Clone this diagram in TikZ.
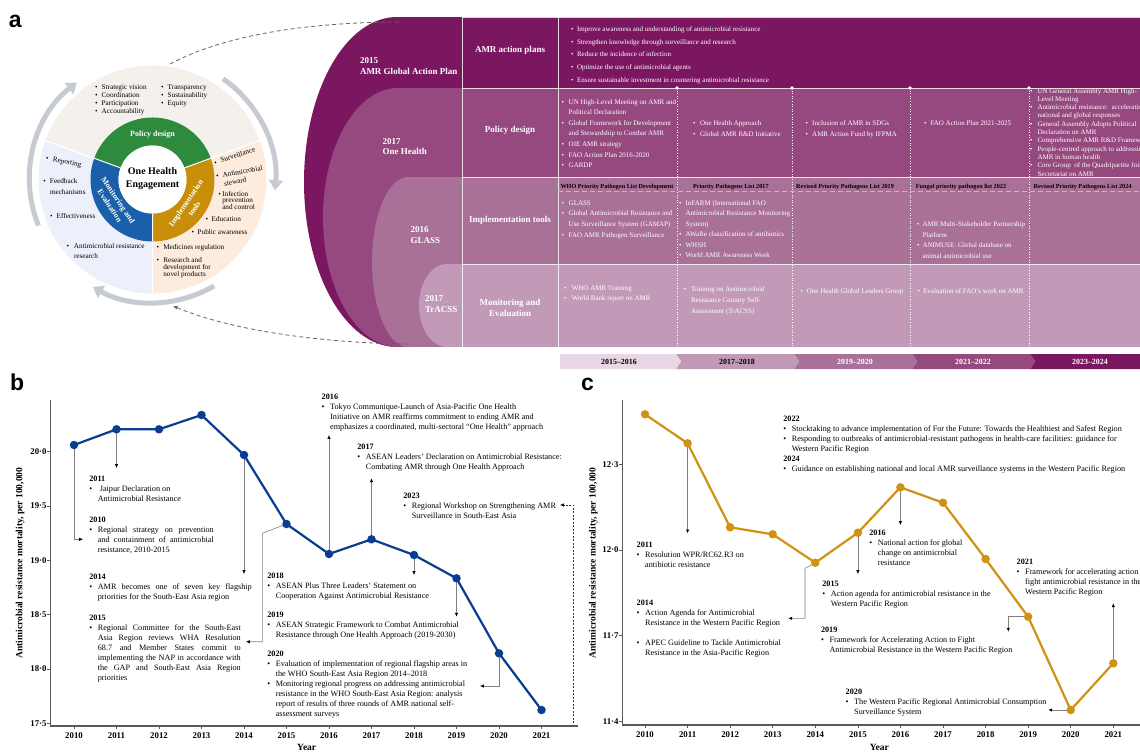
\documentclass[tikz,border=0pt]{standalone}
\usepackage{fontspec}
\setmainfont{Liberation Serif}
\newfontfamily\panelfont{Liberation Sans}
\usetikzlibrary{arrows.meta}
\definecolor{cA}{HTML}{7B1761}
\definecolor{cB}{HTML}{95497E}
\definecolor{cC}{HTML}{A97098}
\definecolor{cD}{HTML}{C29AB8}
\definecolor{cE}{HTML}{E9D7E6}
\definecolor{pgreen}{HTML}{2E8B3D}
\definecolor{pgold}{HTML}{C88E0A}
\definecolor{pblue}{HTML}{1A5FAA}
\definecolor{sbeige}{HTML}{F4F1EC}
\definecolor{speach}{HTML}{FDECDE}
\definecolor{slav}{HTML}{EDF0FA}
\definecolor{garr}{HTML}{C6CBD2}
\definecolor{bblue}{HTML}{0A3D91}
\definecolor{cgold}{HTML}{CF9214}
\definecolor{hdash}{HTML}{9DC3E6}
\newcommand{\fb}{\fontsize{8.2}{10}\selectfont}
\newcommand{\blk}[1]{{\fb\begin{tabular}[t]{@{}l@{}}#1\end{tabular}}}
\newcommand{\bu}{\makebox[8.5pt][l]{•}}
\newcommand{\ii}{\hspace*{8.5pt}}
\newcommand{\jl}[2]{\makebox[#1pt][s]{#2}}
\newcommand{\tb}[3]{{\fontsize{#1}{#2}\selectfont\begin{tabular}[t]{@{}l@{}}#3\end{tabular}}}
\newcommand{\tbu}[1]{\makebox[#1pt][l]{•}}
\newcommand{\tii}[1]{\hspace*{#1pt}}
\newcommand{\slab}[2]{{\fontsize{9}{#1}\selectfont\bfseries\begin{tabular}[t]{@{}l@{}}#2\end{tabular}}}
\begin{document}
\begin{tikzpicture}[x=1pt,y=-1pt]
\tikzset{
 every node/.style={inner sep=0pt,outer sep=0pt},
 ann/.style={anchor=base west,text=black},
 tw/.style={anchor=base west,text=white},
 conn/.style={draw=black!50,line width=0.6pt,-{Latex[length=3.8pt,width=3.4pt,color=black]}},
 conndash/.style={draw=black!80,line width=0.6pt,dash pattern=on 2pt off 1.5pt,-{Latex[length=3.8pt,width=3.4pt,color=black]}},
 tline/.style={draw=white,draw opacity=0.8,line width=0.8pt},
 colsep/.style={draw=white,dotted,line width=0.6pt},
 cdot/.style={circle,fill=white,minimum size=3.6pt},
 rowlab/.style={text=white,font=\fontsize{9}{11}\selectfont\bfseries,align=center},
 hdr/.style={anchor=base,font=\fontsize{6.2}{7}\selectfont\bfseries,text=black},
 tlab/.style={font=\fontsize{7.9}{9}\selectfont\bfseries},
 ringlab/.style={text=white,font=\fontsize{8}{10}\selectfont\bfseries,align=center},
 garrow/.style={draw=garr,line width=5pt,-{Triangle[length=10pt,width=14pt]}},
 dconn/.style={draw=black!60,line width=0.8pt,dash pattern=on 4pt off 3pt},
 axln/.style={draw=black!65,line width=1.1pt},
 ticklab/.style={font=\fontsize{8.8}{10}\selectfont\bfseries},
 axtitle/.style={font=\fontsize{9.5}{11}\selectfont\bfseries},
 bline/.style={draw=bblue,line width=2.2pt,line join=round},
 cline/.style={draw=cgold,line width=2.2pt,line join=round},
 bpt/.style={circle,fill=bblue,minimum size=8.5pt},
 cpt/.style={circle,fill=cgold,minimum size=8.5pt},
 plab/.style={anchor=base west,font=\panelfont\fontsize{23}{23}\selectfont\bfseries},
}
\useasboundingbox (0,0) rectangle (1140,753);
\fill[white] (0,0) rectangle (1140,753);

% ---------- panel labels
\node[plab] (la) at (9,27) {a};
\node[plab] (lb) at (10,390.7) {b};
\node[plab] (lc) at (581,390.7) {c};

% ---------- panel a: nested shapes
\fill[cA] (397,182) ellipse [x radius=93,y radius=165];
\fill[cA] (397,17) rectangle (462,347);
\fill[cB] (398,217.5) ellipse [x radius=75,y radius=129.5];
\fill[cB] (398,88) rectangle (462,347);
\fill[cC] (408,262) ellipse [x radius=36,y radius=85];
\fill[cC] (408,177) rectangle (462,347);
\fill[cD] (447,305.5) ellipse [x radius=28,y radius=41.5];
\fill[cD] (447,264) rectangle (462,347);

% table rows
\fill[cA] (462,17) rectangle (1140,88);
\fill[cB] (462,88) rectangle (1140,177);
\fill[cC] (462,177) rectangle (1140,264);
\fill[cD] (462,264) rectangle (1140,347);
\draw[tline] (462,17) -- (462,347) (558,17) -- (558,347);
\draw[tline] (462,17) -- (1140,17) (462,88) -- (1140,88) (462,177) -- (1140,177) (462,264) -- (1140,264) (462,347) -- (1140,347);
\draw[colsep] (677,88) -- (677,347) (792,88) -- (792,347) (910,88) -- (910,347) (1029,88) -- (1029,347);
\node[cdot] (d1) at (677,88) {};
\node[cdot] (d2) at (792,88) {};
\node[cdot] (d3) at (910,88) {};
\node[cdot] (d4) at (1029,88) {};
\draw[draw=hdash,line width=0.9pt,dash pattern=on 5pt off 3pt] (558,191.5) -- (1140,191.5);

% shape labels
\node[tw] (s1) at (360,63) {\slab{11}{2015\\AMR Global Action Plan}};
\node[tw] (s2) at (382.7,144.7) {\slab{10}{2017\\One Health}};
\node[tw] (s3) at (410.7,232.3) {\slab{10.7}{2016\\GLASS}};
\node[tw] (s4) at (425,301.3) {\slab{10.7}{2017\\TrACSS}};

% row labels
\node[rowlab] (rl1) at (510,50.7) {AMR action plans};
\node[rowlab] (rl2) at (510,130.7) {Policy design};
\node[rowlab] (rl3) at (510,220.7) {Implementation tools};
\node[rowlab] (rl4) at (510,307.5) {Monitoring and\\Evaluation};

% row 1
\node[tw] (r1) at (571,31.3) {\tb{7}{12.75}{\tbu{6}Improve awareness and understanding of antimicrobial resistance\\\tbu{6}Strengthen knowledge through surveillance and research\\\tbu{6}Reduce the incidence of infection\\\tbu{6}Optimize the use of antimicrobial agents\\\tbu{6}Ensure sustainable investment in countering antimicrobial resistance}};
% row 2
\node[tw] (r2a) at (561.7,104) {\tb{7}{10.6}{\tbu{7}UN High-Level Meeting on AMR and\\\tii{7}Political Declaration\\\tbu{7}Global Framework for Development\\\tii{7}and Stewardship to Combat AMR\\\tbu{7}OIE AMR strategy\\\tbu{7}FAO Action Plan 2016-2020\\\tbu{7}GARDP}};
\node[tw] (r2b) at (693,125.6) {\tb{7}{11}{\tbu{7}One Health Approach\\\tbu{7}Global AMR R\&D Initiative}};
\node[tw] (r2c) at (805.7,125.6) {\tb{7}{11}{\tbu{6.5}Inclusion of AMR in SDGs\\\tbu{6.5}AMR Action Fund by IFPMA}};
\node[tw] (r2d) at (924,125.6) {\tb{7}{11}{\tbu{6.5}FAO Action Plan 2021-2025}};
\node[tw] (r2e) at (1030,93) {\tb{7}{8.3}{\tbu{7.5}UN General Assembly AMR High-\\\tii{7.5}Level Meeting\\\tbu{7.5}Antimicrobial resistance:\ \ accelerating\\\tii{7.5}national and global responses\\\tbu{7.5}General Assembly Adopts Political\\\tii{7.5}Declaration on AMR\\\tbu{7.5}Comprehensive AMR R\&D Framework\\\tbu{7.5}People-centred approach to addressing\\\tii{7.5}AMR in human health\\\tbu{7.5}Core Group\ \ of the Quadripartite Joint\\\tii{7.5}Secretariat on AMR}};
% row 3
\node[hdr] (h1) at (617,188) {WHO Priority Pathogen List Development};
\node[hdr] (h2) at (730.8,188) {Priority Pathogens List 2017};
\node[hdr] (h3) at (845,188) {Revised Priority Pathogens List 2019};
\node[hdr] (h4) at (961,188) {Fungal priority pathogen list 2022};
\node[hdr] (h5) at (1082.6,188) {Revised Priority Pathogens List 2024};
\node[tw] (r3a) at (561.7,205) {\tb{7}{10.9}{\tbu{7}GLASS\\\tbu{7}Global Antimicrobial Resistance and\\\tii{7}Use Surveillance System (GAMAP)\\\tbu{7}FAO AMR Pathogen Surveillance}};
\node[tw] (r3b) at (679,205) {\tb{7}{10.5}{\tbu{6.6}InFARM (International FAO\\\tii{6.6}Antimicrobial Resistance Monitoring\\\tii{6.6}System)\\\tbu{6.6}AWaRe classification of antibiotics\\\tbu{6.6}WHSH\\\tbu{6.6}World AMR Awareness Week}};
\node[tw] (r3d) at (917,226.6) {\tb{7}{10.6}{\tbu{5.5}AMR Multi-Stakeholder Partnership\\\tii{5.5}Platform\\\tbu{5.5}ANIMUSE: Global database on\\\tii{5.5}animal antimicrobial use}};
% row 4
\node[tw] (r4a) at (564,290) {\tb{7}{10.6}{\tbu{7.8}WHO AMR Training\\\tbu{7.8}World Bank report on AMR}};
\node[tw] (r4b) at (683.7,291.6) {\tb{7}{10.7}{\tbu{7.3}Training on Antimicrobial\\\tii{7.3}Resistance Country Self-\\\tii{7.3}Assessment (TrACSS)}};
\node[tw] (r4c) at (800.5,293.3) {\tb{7}{10.7}{\tbu{6.4}One Health Global Leaders Group}};
\node[tw] (r4d) at (917.7,293.3) {\tb{7}{10.7}{\tbu{5.5}Evaluation of FAO’s work on AMR}};

% timeline
\fill[cA] (1030,354) -- (1140,354) -- (1140,369) -- (1030,369) -- (1035,361.5) -- cycle;
\fill[cB] (912,354) -- (1030,354) -- (1035,361.5) -- (1030,369) -- (912,369) -- (917,361.5) -- cycle;
\fill[cC] (794,354) -- (912,354) -- (917,361.5) -- (912,369) -- (794,369) -- (799,361.5) -- cycle;
\fill[cD] (676,354) -- (794,354) -- (799,361.5) -- (794,369) -- (676,369) -- (681,361.5) -- cycle;
\fill[cE] (560,354) -- (676,354) -- (681,361.5) -- (676,369) -- (560,369) -- cycle;
\node[tlab] (t1) at (619,361.5) {2015–2016};
\node[tlab] (t2) at (737,361.5) {2017–2018};
\node[tlab,text=white] (t3) at (855,361.5) {2019–2020};
\node[tlab,text=white] (t4) at (973,361.5) {2021–2022};
\node[tlab,text=white] (t5) at (1090,361.5) {2023–2024};

% ---------- donut
\begin{scope}[shift={(152.5,179.5)},y=1pt]
 \fill[sbeige] (0,0) -- (20:114) arc[start angle=20,end angle=160,radius=114] -- cycle;
 \fill[speach] (0,0) -- (-90:114) arc[start angle=-90,end angle=20,radius=114] -- cycle;
 \fill[slav] (0,0) -- (160:114) arc[start angle=160,end angle=270,radius=114] -- cycle;
 \draw[white,line width=1.2pt] (0,0) -- (20:114) (0,0) -- (160:114) (0,0) -- (-90:114);
 \fill[pgreen] (20:62) arc[start angle=20,end angle=160,radius=62] -- (160:34) arc[start angle=160,end angle=20,radius=34] -- cycle;
 \fill[pgold] (-90:62) arc[start angle=-90,end angle=20,radius=62] -- (20:34) arc[start angle=20,end angle=-90,radius=34] -- cycle;
 \fill[pblue] (160:62) arc[start angle=160,end angle=270,radius=62] -- (270:34) arc[start angle=270,end angle=160,radius=34] -- cycle;
 \draw[white,line width=1pt] (20:34) -- (20:62) (160:34) -- (160:62) (-90:34) -- (-90:62);
 \fill[white] (0,0) circle[radius=34];
 \draw[garrow] (202:123) arc[start angle=202,end angle=128,radius=123];
 \draw[garrow] (55:123) arc[start angle=55,end angle=-5,radius=123];
 \draw[garrow] (-60:123) arc[start angle=-60,end angle=-119,radius=123];
\end{scope}
\node[font=\fontsize{10}{12.5}\selectfont\bfseries,align=center] (ohe) at (152.5,178.5) {One Health\\Engagement};
\node[ringlab] (rg1) at (152.5,134.5) {Policy design};
\node[ringlab,rotate=-56] (rg2) at (114,203) {Monitoring and\\Evaluation};
\node[ringlab,rotate=56] (rg3) at (190,206) {Implementation\\tools};
\node[ann] (o1) at (95,89.7) {\tb{7.2}{8}{\tbu{6.7}Strategic vision\\\tbu{6.7}Coordination\\\tbu{6.7}Participation\\\tbu{6.7}Accountability}};
\node[ann] (o2) at (161,89.7) {\tb{7.2}{8}{\tbu{6.7}Transparency\\\tbu{6.7}Sustainability\\\tbu{6.7}Equity}};
\node[ann,rotate=-10] (o3) at (45.7,160.5) {\tb{7.2}{8}{\tbu{7}Reporting}};
\node[ann] (o4) at (43.3,183.7) {\tb{7.2}{10.6}{\tbu{6.7}Feedback\\\tii{6.7}mechanisms}};
\node[ann] (o5) at (50,218.7) {\tb{7.2}{8}{\tbu{6.7}Effectiveness}};
\node[ann] (o6) at (66.7,248.7) {\tb{7.2}{10}{\tbu{7.3}Antimicrobial resistance\\\tii{7.3}research}};
\node[ann,rotate=18] (o7) at (215,165) {\tb{7.2}{8}{\tbu{6.7}Surveillance}};
\node[ann,rotate=10] (o8) at (216.5,178.5) {\tb{7.2}{9}{\tbu{6.7}Antimicrobial\\\tii{6.7}steward}};
\node[ann] (o9) at (218.3,196) {\tb{7.2}{6.8}{\tbu{4}Infection\\\tii{4}prevention\\\tii{4}and control}};
\node[ann] (o10) at (205.7,221.3) {\tb{7.2}{8}{\tbu{6}Education}};
\node[ann] (o11) at (191.7,234.7) {\tb{7.2}{8}{\tbu{6}Public awareness}};
\node[ann] (o12) at (156.7,249.7) {\tb{7.2}{8}{\tbu{6.6}Medicines regulation}};
\node[ann] (o13) at (156.7,262) {\tb{7.2}{7}{\tbu{6.6}Research and\\\tii{6.6}development for\\\tii{6.6}novel products}};

% dashed links donut <-> shapes
\coordinate (dA1) at (170,64);
\coordinate (dA2) at (402,22);
\draw[dconn] (dA1) .. controls (230,32) and (320,22) .. (dA2);
\coordinate (dB1) at (408,344);
\coordinate (dB2) at (173,306);
\draw[dconn,-{Latex[length=4.5pt,width=4pt]}] (dB1) .. controls (320,343) and (230,330) .. (dB2);

% ---------- panel b
\coordinate (pb10) at (74,445);
\coordinate (pb11) at (116.5,429.3);
\coordinate (pb12) at (159,429.3);
\coordinate (pb13) at (201.5,415);
\coordinate (pb14) at (244,455);
\coordinate (pb15) at (286.5,524);
\coordinate (pb16) at (329,554);
\coordinate (pb17) at (371.5,539.3);
\coordinate (pb18) at (414,555);
\coordinate (pb19) at (456.5,578.3);
\coordinate (pb20) at (499,653.3);
\coordinate (pb21) at (541.5,710);
\draw[axln] (50.7,400) -- (50.7,726) -- (578,726);
\foreach \v/\y in {20·0/451.7,19·5/506,19·0/560.3,18·5/614.6,18·0/668.9,17·5/723.2}{
  \draw[axln,line width=0.8pt] (47.3,\y) -- (50.7,\y);
  \node[ticklab,anchor=east] (yb\y) at (46.5,\y) {\v};}
\foreach \yr/\x in {2010/74,2011/116.5,2012/159,2013/201.5,2014/244,2015/286.5,2016/329,2017/371.5,2018/414,2019/456.5,2020/499,2021/541.5}{
  \draw[axln,line width=0.8pt] (\x,726) -- (\x,729);
  \node[ticklab] (xb\yr) at (\x,735.5) {\yr};}
\node[axtitle,rotate=90] (ybt) at (20,563) {Antimicrobial resistance mortality, per 100,000};
\node[axtitle] (xbt) at (306.7,747.5) {Year};

\coordinate (e11) at (116.5,468);
\coordinate (e10) at (83,539.3);
\coordinate (e14) at (244,574);
\coordinate (k15) at (262.3,533.3);
\coordinate (e15) at (246,641.7);
\coordinate (e16) at (329,435);
\coordinate (e17) at (371.5,478.3);
\coordinate (e18) at (414,575);
\coordinate (e19) at (456.5,616.7);
\coordinate (e20) at (480,686);
\coordinate (s23) at (573.3,723.3);
\coordinate (e23) at (560,505);
\draw[conn] (pb11) -- (e11);
\draw[conn] (pb10) |- (e10);
\draw[conn] (pb14) -- (e14);
\draw[conn] (pb15) -- (k15) |- (e15);
\draw[conn] (pb16) -- (e16);
\draw[conn] (pb17) -- (e17);
\draw[conn] (pb18) -- (e18);
\draw[conn] (pb19) -- (e19);
\draw[conn] (pb20) |- (e20);
\draw[conndash] (s23) |- (e23);

\draw[bline] (pb10) -- (pb11) -- (pb12) -- (pb13) -- (pb14) -- (pb15) -- (pb16) -- (pb17) -- (pb18) -- (pb19) -- (pb20) -- (pb21);
\foreach \i in {10,...,21}{\node[bpt] (mb\i) at (pb\i) {};}

\node[ann] (tb11) at (89.3,481.8) {\blk{\textbf{2011}\\\bu\ Jaipur Declaration on\\\ii Antimicrobial Resistance}};
\node[ann] (tb10) at (89.3,522.5) {\blk{\textbf{2010}\\\bu\jl{116}{Regional strategy on prevention}\\\ii\jl{116}{and containment of antimicrobial}\\\ii resistance, 2010-2015}};
\node[ann] (tb14) at (89.3,579.2) {\blk{\textbf{2014}\\\bu\jl{154}{AMR becomes one of seven key flagship}\\\ii priorities for the South-East Asia region}};
\node[ann] (tb15) at (89.3,620.8) {\blk{\textbf{2015}\\\bu\jl{143}{Regional Committee for the South-East}\\\ii\jl{143}{Asia Region reviews WHA Resolution}\\\ii\jl{143}{68.7 and Member States commit to}\\\ii\jl{143}{implementing the NAP in accordance with}\\\ii\jl{143}{the GAP and South-East Asia Region}\\\ii priorities}};
\node[ann] (tb16) at (321.7,399.8) {\blk{\textbf{2016}\\\bu Tokyo Communique-Launch of Asia-Pacific One Health\\\ii Initiative on AMR reaffirms commitment to ending AMR and\\\ii emphasizes a coordinated, multi-sectoral “One Health” approach}};
\node[ann] (tb17) at (357.3,449.2) {\blk{\textbf{2017}\\\bu ASEAN Leaders’ Declaration on Antimicrobial Resistance:\\\ii Combating AMR through One Health Approach}};
\node[ann] (tb23) at (403.3,498.5) {\blk{\textbf{2023}\\\bu Regional Workshop on Strengthening AMR\\\ii Surveillance in South-East Asia}};
\node[ann] (tb18) at (267.3,578.5) {\blk{\textbf{2018}\\\bu ASEAN Plus Three Leaders’ Statement on\\\ii Cooperation Against Antimicrobial Resistance}};
\node[ann] (tb19) at (267.3,617.5) {\blk{\textbf{2019}\\\bu ASEAN Strategic Framework to Combat Antimicrobial\\\ii Resistance through One Health Approach (2019-2030)}};
\node[ann] (tb20) at (267.3,656.5) {\blk{\textbf{2020}\\\bu Evaluation of implementation of regional flagship areas in\\\ii the WHO South-East Asia Region 2014–2018\\\bu Monitoring regional progress on addressing antimicrobial\\\ii resistance in the WHO South-East Asia Region: analysis\\\ii report of results of three rounds of AMR national self-\\\ii assessment surveys}};

% ---------- panel c
\coordinate (pc10) at (645,414.3);
\coordinate (pc11) at (687.6,443.3);
\coordinate (pc12) at (730.1,527.3);
\coordinate (pc13) at (772.7,534.3);
\coordinate (pc14) at (815.3,562.7);
\coordinate (pc15) at (857.9,532.7);
\coordinate (pc16) at (900.4,487.3);
\coordinate (pc17) at (943,502.7);
\coordinate (pc18) at (985.6,559);
\coordinate (pc19) at (1028.1,616.7);
\coordinate (pc20) at (1070.7,710);
\coordinate (pc21) at (1113.3,663.3);
\draw[axln] (622.7,400) -- (622.7,725) -- (1140,725);
\foreach \v/\y in {12·3/464.3,12·0/550,11·7/635.7,11·4/721.4}{
  \draw[axln,line width=0.8pt] (619.3,\y) -- (622.7,\y);
  \node[ticklab,anchor=east] (yc\y) at (618.5,\y) {\v};}
\foreach \yr/\x in {2010/645,2011/687.6,2012/730.1,2013/772.7,2014/815.3,2015/857.9,2016/900.4,2017/943,2018/985.6,2019/1028.1,2020/1070.7,2021/1113.3}{
  \draw[axln,line width=0.8pt] (\x,725) -- (\x,728);
  \node[ticklab] (xc\yr) at (\x,734.5) {\yr};}
\node[axtitle,rotate=90] (yct) at (593.3,563) {Antimicrobial resistance mortality, per 100,000};
\node[axtitle] (xct) at (879.3,747.5) {Year};

\coordinate (f11) at (687.6,533.3);
\coordinate (k14) at (805,568.3);
\coordinate (f14) at (788.3,618.3);
\coordinate (f15) at (857.9,574);
\coordinate (f16) at (900.4,525);
\coordinate (f19) at (1008.3,631.7);
\coordinate (f20) at (1048.3,710);
\coordinate (f21) at (1113.3,603.3);
\draw[conn] (pc11) -- (f11);
\draw[conn] (pc14) -- (k14) |- (f14);
\draw[conn] (pc15) -- (f15);
\draw[conn] (pc16) -- (f16);
\draw[conn] (pc19) -| (f19);
\draw[conn] (pc20) -- (f20);
\draw[conn] (pc21) -- (f21);

\draw[cline] (pc10) -- (pc11) -- (pc12) -- (pc13) -- (pc14) -- (pc15) -- (pc16) -- (pc17) -- (pc18) -- (pc19) -- (pc20) -- (pc21);
\foreach \i in {10,...,21}{\node[cpt] (mc\i) at (pc\i) {};}

\node[ann] (tc22) at (783.3,421.8) {\blk{\textbf{2022}\\\bu Stocktaking to advance implementation of For the Future: Towards the Healthiest and Safest Region\\\bu Responding to outbreaks of antimicrobial-resistant pathogens in health-care facilities: guidance for\\\ii Western Pacific Region\\\textbf{2024}\\\bu Guidance on establishing national and local AMR surveillance systems in the Western Pacific Region}};
\node[ann] (tc11) at (636.7,547.5) {\blk{\textbf{2011}\\\bu Resolution WPR/RC62.R3 on\\\ii antibiotic resistance}};
\node[ann] (tc14) at (636.7,605.2) {\blk{\textbf{2014}\\\bu Action Agenda for Antimicrobial\\\ii Resistance in the Western Pacific Region\\[10pt]\bu APEC Guideline to Tackle Antimicrobial\\\ii Resistance in the Asia-Pacific Region}};
\node[ann] (tc15) at (822.3,586.8) {\blk{\textbf{2015}\\\bu Action agenda for antimicrobial resistance in the\\\ii Western Pacific Region}};
\node[ann] (tc19) at (821,632.5) {\blk{\textbf{2019}\\\bu Framework for Accelerating Action to Fight\\\ii Antimicrobial Resistance in the Western Pacific Region}};
\node[ann] (tc20) at (845.7,694.2) {\blk{\textbf{2020}\\\bu The Western Pacific Regional Antimicrobial Consumption\\\ii Surveillance System}};
\node[ann] (tc16) at (869.3,535.2) {\blk{\textbf{2016}\\\bu National action for global\\\ii change on antimicrobial\\\ii resistance}};
\node[ann] (tc21) at (1016.7,564.2) {\blk{\textbf{2021}\\\bu Framework for accelerating action to\\\ii fight antimicrobial resistance in the\\\ii Western Pacific Region}};
\end{tikzpicture}
\end{document}
